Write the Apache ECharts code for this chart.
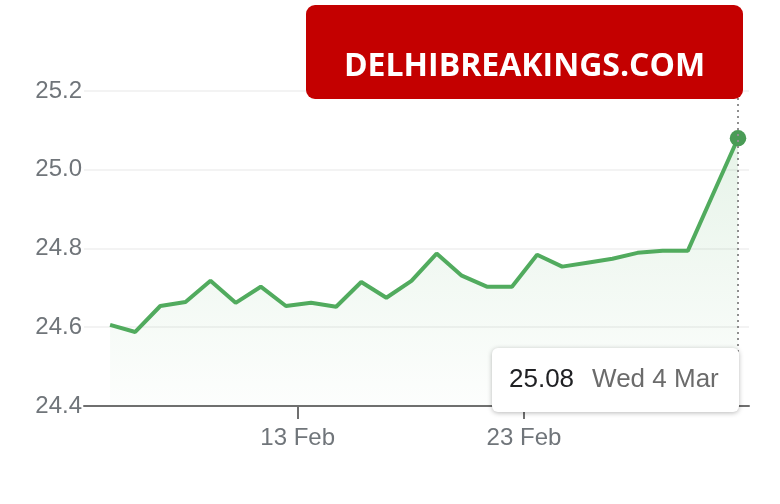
<!DOCTYPE html>
<html>
<head>
<meta charset="utf-8">
<title>Rate chart</title>
<script src="https://cdn.jsdelivr.net/npm/echarts@6/dist/echarts.min.js"></script>
<style>
  html, body { margin: 0; padding: 0; background: #fff; }
  #chart { width: 780px; height: 504px; }
</style>
</head>
<body>
<div id="chart"></div>
<script>
// Sample times and closing values
const times = [
  '2026-02-04 17:00', '2026-02-05 19:40', '2026-02-06 22:15', '2026-02-08 01:00',
  '2026-02-09 03:30', '2026-02-10 06:10', '2026-02-11 08:50', '2026-02-12 11:30',
  '2026-02-13 14:10', '2026-02-14 16:45', '2026-02-15 19:25', '2026-02-16 22:00',
  '2026-02-18 00:40', '2026-02-19 03:20', '2026-02-20 06:00', '2026-02-21 08:35',
  '2026-02-22 11:15', '2026-02-23 13:55', '2026-02-24 16:30', '2026-02-25 19:10',
  '2026-02-26 21:50', '2026-02-28 00:25', '2026-03-01 03:05', '2026-03-02 05:45',
  '2026-03-03 08:20', '2026-03-04 11:00'
];
const values = [
  24.606, 24.588, 24.654, 24.664, 24.718, 24.662, 24.703, 24.654,
  24.662, 24.652, 24.715, 24.675, 24.718, 24.787, 24.731, 24.703,
  24.703, 24.784, 24.754, 24.764, 24.774, 24.789, 24.794, 24.794,
  24.937, 25.08
];
const tickDates = ['2026-02-13 00:00', '2026-02-23 00:00'];
const yTicks = [24.4, 24.6, 24.8, 25.0, 25.2];
const months = ['Jan', 'Feb', 'Mar', 'Apr', 'May', 'Jun', 'Jul', 'Aug', 'Sep', 'Oct', 'Nov', 'Dec'];
const days = ['Sun', 'Mon', 'Tue', 'Wed', 'Thu', 'Fri', 'Sat'];

const green = '#4a9c56';
const grey = '#70757a';
const font = "'Liberation Sans', Arial, sans-serif";

const ms = s => +echarts.time.parse(s);
const points = times.map((t, i) => [ms(t), values[i]]);
const lastIdx = points.length - 1;
const tickStamps = tickDates.map(ms);

const chart = echarts.init(document.getElementById('chart'));

const option = {
  animation: false,
  backgroundColor: '#fff',
  grid: { left: 84, right: 31, top: 91, bottom: 98 },
  xAxis: {
    type: 'value',
    min: ms('2026-02-03 13:20'),
    max: ms('2026-03-04 22:40'),
    axisLine: { lineStyle: { color: '#6f6f6f', width: 2 } },
    axisTick: { show: true, customValues: tickStamps, length: 13, lineStyle: { color: '#6f6f6f', width: 2 } },
    axisLabel: {
      customValues: tickStamps,
      color: grey, fontSize: 24, fontFamily: font, margin: 20,
      formatter: v => {
        const d = new Date(v);
        return d.getDate() + ' ' + months[d.getMonth()];
      }
    },
    splitLine: { show: false }
  },
  yAxis: {
    type: 'value',
    min: yTicks[0],
    max: yTicks[yTicks.length - 1],
    interval: 0.2,
    axisLine: { show: false },
    axisTick: { show: false },
    axisLabel: {
      color: grey, fontSize: 24, fontFamily: font, margin: 2,
      formatter: v => v.toFixed(1)
    },
    splitLine: { lineStyle: { color: '#efefef', width: 1.5 } }
  },
  tooltip: {
    trigger: 'axis',
    alwaysShowContent: true,
    position: [492, 348],
    backgroundColor: '#fff',
    borderWidth: 0,
    padding: [14, 20, 14, 17],
    extraCssText: 'box-shadow: 0 1px 5px rgba(0,0,0,0.28); border-radius: 6px; line-height: 32px;',
    axisPointer: {
      type: 'line',
      label: { show: false },
      lineStyle: { color: '#8f8f8f', width: 2, type: [2, 4] }
    },
    formatter: params => {
      const p = params[0];
      const d = new Date(p.value[0]);
      return '<span style="font-size:26px;font-family:' + font + ';color:#202124">' + p.value[1].toFixed(2) + '</span>' +
        '<span style="font-size:26px;font-family:' + font + ';color:#6b6b6b;margin-left:18px">' +
        days[d.getDay()] + ' ' + d.getDate() + ' ' + months[d.getMonth()] + '</span>';
    }
  },
  series: [{
    type: 'line',
    data: points,
    showSymbol: false,
    symbol: 'circle',
    symbolSize: 15,
    lineStyle: { color: green, width: 4 },
    itemStyle: { color: green },
    areaStyle: {
      color: new echarts.graphic.LinearGradient(0, 0, 0, 1, [
        { offset: 0, color: 'rgba(74,156,86,0.2)' },
        { offset: 1, color: 'rgba(74,156,86,0.02)' }
      ])
    },
    markPoint: {
      symbol: 'circle',
      symbolSize: 15,
      label: { show: false },
      itemStyle: { color: green },
      data: [{ coord: points[lastIdx] }]
    }
  }],
  // site banner over the top right corner
  graphic: [{
    type: 'rect',
    z: 100,
    shape: { x: 306, y: 5, width: 437, height: 94, r: 9 },
    style: { fill: '#c40000' }
  }, {
    type: 'text',
    z: 101,
    x: 524.5,
    y: 67,
    style: {
      text: 'DELHIBREAKINGS.COM',
      fill: '#fff',
      font: 'bold 32px "Open Sans", sans-serif',
      textAlign: 'center',
      textVerticalAlign: 'middle'
    }
  }]
};

chart.setOption(option);

// keep the last day's tooltip open, as in the picture
chart.dispatchAction({ type: 'showTip', seriesIndex: 0, dataIndex: lastIdx });
</script>
</body>
</html>
